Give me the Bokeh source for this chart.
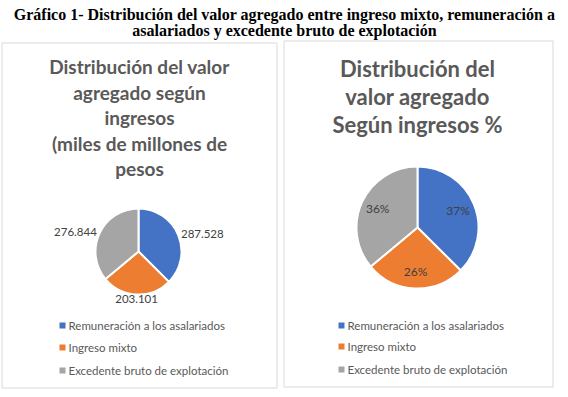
import math
from bokeh.plotting import figure
from bokeh.models import Range1d, ColumnDataSource
from bokeh.core.properties import value
from bokeh.embed import file_html
from bokeh.resources import INLINE

# ---------------- data ----------------
categories = ["Remuneración a los asalariados", "Ingreso mixto", "Excedente bruto de explotación"]
values = [287.528, 203.101, 276.844]          # miles de millones de pesos
value_labels = ["287.528", "203.101", "276.844"]
pct_labels = ["37%", "26%", "36%"]
colors = ["#4472C4", "#ED7D31", "#A5A5A5"]

main_title = ["Gráfico 1- Distribución del valor agregado entre ingreso mixto, remuneración a",
              "asalariados y excedente bruto de explotación"]
left_title = ["Distribución del valor", "agregado según", "ingresos", "(miles de millones de", "pesos"]
right_title = ["Distribución del", "valor agregado", "Según ingresos %"]

# ---------------- figure ----------------
W, H = 568, 397
p = figure(width=W, height=H, output_backend="svg", toolbar_location=None,
           x_range=Range1d(0, W), y_range=Range1d(0, H),
           min_border=0, outline_line_color=None)
p.axis.visible = False
p.grid.visible = False
p.background_fill_color = "white"
p.border_fill_color = "white"

def Y(ry):
    # reference pixel row -> data y
    return H - ry

SANS = "Lato"
TXT = "#595959"

# panel frames
p.quad(left=[1.5, 283.5], right=[276.5, 552.5], top=[Y(42.5), Y(40.5)], bottom=[Y(387.5), Y(386.5)],
       fill_color=None, line_color="#d9d9d9", line_width=1)

# main title
p.text(x=[284, 284], y=[Y(14), Y(30)], text=main_title,
       text_font=value("Liberation Serif"), text_font_style="bold",
       text_font_size="16px", text_color="black",
       text_align="center", text_baseline="middle")

# chart titles
p.text(x=[139] * len(left_title), y=[Y(66 + 25.5 * i) for i in range(len(left_title))],
       text=left_title, text_font=value(SANS), text_font_style="bold",
       text_font_size="19px", text_color=TXT, text_align="center", text_baseline="middle")
p.text(x=[417] * len(right_title), y=[Y(68 + 28 * i) for i in range(len(right_title))],
       text=right_title, text_font=value(SANS), text_font_style="bold",
       text_font_size="22px", text_color=TXT, text_align="center", text_baseline="middle")

total = sum(values)
fracs = [v / total for v in values]
starts, ends, mids = [], [], []
cum = 0.0
for f in fracs:
    a0 = math.pi / 2 - 2 * math.pi * (cum + f)
    a1 = math.pi / 2 - 2 * math.pi * cum
    starts.append(a0)
    ends.append(a1)
    mids.append((a0 + a1) / 2)
    cum += f

def pie(cx, cy, r):
    src = ColumnDataSource(dict(start=starts, end=ends, color=colors))
    p.wedge(x=cx, y=Y(cy), radius=r, start_angle="start", end_angle="end",
            fill_color="color", line_color="white", line_width=2, source=src)

# ---- left pie ----
lcx, lcy, lr = 138, 251, 43
pie(lcx, lcy, lr)
for lab, m in zip(value_labels, mids):
    c, s = math.cos(m), math.sin(m)
    d = lr + (3 if abs(c) > 0.5 else 1)
    x = lcx + d * c
    y = Y(lcy) + d * s
    if abs(c) > 0.5:
        align, base = ("left" if c > 0 else "right"), "middle"
    else:
        align, base = "center", ("bottom" if s > 0 else "top")
    p.text(x=[x], y=[y], text=[lab], text_font=value(SANS), text_font_size="11.5px",
           text_color="#404040", text_align=align, text_baseline=base)

# ---- right pie ----
rcx, rcy, rr = 417, 227, 61
pie(rcx, rcy, rr)
p.text(x=[rcx + 0.72 * rr * math.cos(m) for m in mids],
       y=[Y(rcy) + 0.72 * rr * math.sin(m) for m in mids],
       text=pct_labels, text_font=value(SANS), text_font_size="12px",
       text_color="#404040", text_align="center", text_baseline="middle")

# ---- legends ----
def legend(mx, tx, ys):
    p.scatter(x=[mx] * 3, y=[Y(v) for v in ys], marker="square", size=6,
              fill_color=colors, line_color=None)
    p.text(x=[tx] * 3, y=[Y(v) for v in ys], text=categories, text_font=value(SANS),
           text_font_size="11.5px", text_color=TXT, text_align="left", text_baseline="middle")

legend(62, 68, [325, 347, 370])
legend(341, 347, [325, 346, 369])

open("out.html", "w").write(file_html(p, INLINE))
